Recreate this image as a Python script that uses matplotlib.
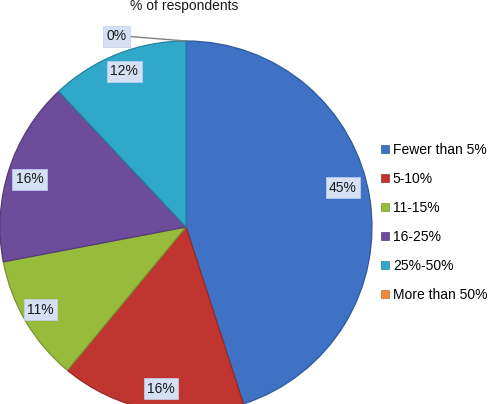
import matplotlib
matplotlib.use("Agg")
import matplotlib.pyplot as plt
from matplotlib.patches import Patch
import numpy as np

categories = ["Fewer than 5%", "5-10%", "11-15%", "16-25%", "25%-50%", "More than 50%"]
values = [45, 16, 11, 16, 12, 0]
labels = ["45%", "16%", "11%", "16%", "12%", "0%"]
colors = ["#3f72c4", "#c0352f", "#97bb3a", "#6e4c9c", "#2fa8ca", "#f08a36"]
edges = ["#2d5a9e", "#962a25", "#789530", "#553a7a", "#23849f", "#c06e2a"]
title = "% of respondents"

plt.rcParams['font.family'] = ['Liberation Sans', 'DejaVu Sans']
W, H = 498, 404
fig = plt.figure(figsize=(W / 100, H / 100), dpi=100)
ax = fig.add_axes([0, 0, 1, 1])

cx, cy, R = 186, H - 227, 186
wedges, _ = ax.pie(values, colors=colors, startangle=90, counterclock=False,
                   center=(cx, cy), radius=R, frame=True,
                   wedgeprops=dict(linewidth=0.9))
for w, e, v in zip(wedges, edges, values):
    w.set_edgecolor(e)
    if v == 0:
        w.set_linewidth(0)
ax.set_xlim(0, W)
ax.set_ylim(0, H)
ax.set_aspect('equal')
ax.axis('off')

# label placement
dist = [0.87, 0.88, 0.90, 0.88, 0.90, 1.09]
angle_adj = [5, 2, -1, 1, 0, 20]
bbox = dict(boxstyle="square,pad=0.25", facecolor="#d6e0f5", edgecolor="#c3d0ec", linewidth=0.5)
for w, lab, d, adj in zip(wedges, labels, dist, angle_adj):
    mid = (w.theta1 + w.theta2) / 2 + adj
    x = cx + d * R * np.cos(np.radians(mid))
    y = cy + d * R * np.sin(np.radians(mid))
    ax.text(x, y, lab, ha='center', va='center', fontsize=10, color='#1a1a1a', bbox=bbox, zorder=5)
    if lab == "0%":
        tx = cx + R * np.cos(np.radians(w.theta1))
        ty = cy + R * np.sin(np.radians(w.theta1))
        ax.plot([x + 13, tx], [y, ty], color='#7f7f7f', linewidth=1.0, zorder=4)

ax.text(184, H - 10, title, ha='center', va='baseline', fontsize=10, color='#1a1a1a')

handles = [Patch(facecolor=c, edgecolor=e, linewidth=0.5) for c, e in zip(colors, edges)]
leg = ax.legend(handles, categories, loc='upper left', bbox_to_anchor=(381 / W, 1 - 143 / H),
                bbox_transform=ax.transAxes, frameon=False, fontsize=10,
                handlelength=0.55, handleheight=0.55, handletextpad=0.3,
                labelspacing=1.08, borderpad=0, borderaxespad=0)

fig.savefig("out.png", dpi=100)
